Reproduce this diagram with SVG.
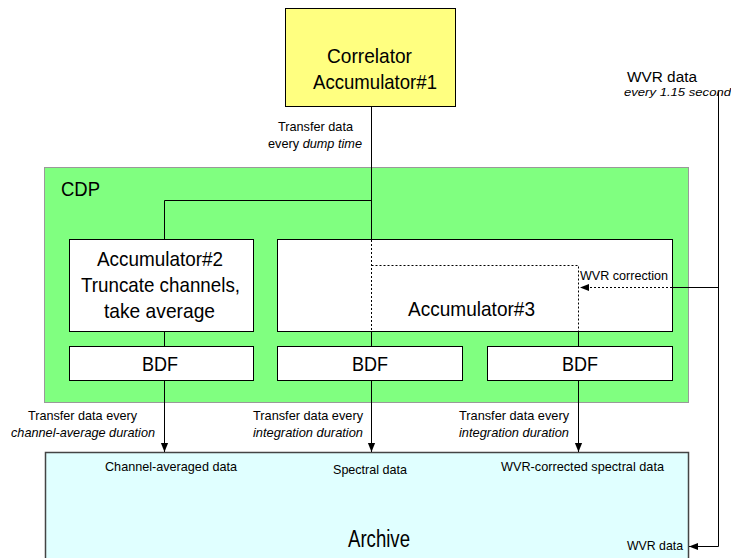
<svg xmlns="http://www.w3.org/2000/svg" width="731" height="558" viewBox="0 0 731 558">
<style>
text{font-family:"Liberation Sans",Arial,sans-serif;fill:#000}
.big{font-size:21px;text-anchor:middle}
.sm{font-size:13px}
.mid{text-anchor:middle}
.it{font-style:italic}
.box{fill:#fff;stroke:#000;stroke-width:1}
.ln{fill:none;stroke:#000;stroke-width:1}
.dot{fill:none;stroke:#000;stroke-width:1;stroke-dasharray:2,2}
</style>
<defs>
<marker id="ah" viewBox="0 0 10 10" refX="10" refY="5" markerWidth="9" markerHeight="9" markerUnits="userSpaceOnUse" orient="auto">
<path d="M0,1 L10,5 L0,9 z" fill="#000"/>
</marker>
</defs>
<rect width="731" height="558" fill="#fff"/>

<g id="cdp">
<rect x="44.5" y="167.5" width="644" height="235" fill="#80ff80" stroke="#999" stroke-width="1"/>
<text x="61" y="196" font-size="20px" textLength="39" lengthAdjust="spacingAndGlyphs">CDP</text>
</g>

<g id="archive">
<rect x="45.5" y="452.5" width="643" height="120" fill="#e0ffff" stroke="#444" stroke-width="1.5"/>
<text x="379" y="547" font-size="23px" text-anchor="middle" textLength="62" lengthAdjust="spacingAndGlyphs">Archive</text>
<text class="sm mid" x="171" y="471" textLength="132" lengthAdjust="spacingAndGlyphs">Channel-averaged data</text>
<text class="sm mid" x="370" y="474" textLength="74" lengthAdjust="spacingAndGlyphs">Spectral data</text>
<text class="sm mid" x="582.5" y="471" textLength="163" lengthAdjust="spacingAndGlyphs">WVR-corrected spectral data</text>
<text class="sm" x="627" y="550" textLength="56" lengthAdjust="spacingAndGlyphs">WVR data</text>
</g>

<g id="correlator">
<rect x="285.5" y="8.5" width="170" height="98" fill="#ffff80" stroke="#000" stroke-width="1"/>
<text class="big" x="369.5" y="63" textLength="85" lengthAdjust="spacingAndGlyphs">Correlator</text>
<text class="big" x="375" y="89" textLength="124" lengthAdjust="spacingAndGlyphs">Accumulator#1</text>
</g>

<g id="acc2">
<rect class="box" x="69.5" y="239.5" width="184" height="92"/>
<text class="big" x="160" y="266" textLength="126" lengthAdjust="spacingAndGlyphs">Accumulator#2</text>
<text class="big" x="160.5" y="292" textLength="159" lengthAdjust="spacingAndGlyphs">Truncate channels,</text>
<text class="big" x="159.5" y="318" textLength="111" lengthAdjust="spacingAndGlyphs">take average</text>
</g>

<g id="acc3">
<rect class="box" x="277.5" y="239.5" width="395" height="92"/>
<text class="big" x="471.5" y="316" textLength="127" lengthAdjust="spacingAndGlyphs">Accumulator#3</text>
</g>

<g id="bdf1">
<rect class="box" x="69.5" y="346.5" width="184" height="34"/>
<text class="big" x="160" y="371" textLength="36" lengthAdjust="spacingAndGlyphs">BDF</text>
</g>
<g id="bdf2">
<rect class="box" x="277.5" y="346.5" width="185" height="34"/>
<text class="big" x="370" y="371" textLength="36" lengthAdjust="spacingAndGlyphs">BDF</text>
</g>
<g id="bdf3">
<rect class="box" x="487.5" y="346.5" width="185" height="34"/>
<text class="big" x="580" y="371" textLength="36" lengthAdjust="spacingAndGlyphs">BDF</text>
</g>

<g id="connectors">
<path class="ln" d="M371.5,106.5 V239.5"/>
<path class="ln" d="M371.5,200.5 H164.5 V239.5"/>
<path class="dot" d="M371.5,240 V331"/>
<path class="dot" d="M371.5,265.5 H578.5 V331"/>
<path class="ln" d="M164.5,331.5 V346.5"/>
<path class="ln" d="M371.5,331.5 V346.5"/>
<path class="ln" d="M578.5,331.5 V346.5"/>
<path class="ln" d="M164.5,380.5 V452" marker-end="url(#ah)"/>
<path class="ln" d="M371.5,380.5 V452" marker-end="url(#ah)"/>
<path class="ln" d="M578.5,380.5 V452" marker-end="url(#ah)"/>
<path class="ln" d="M718.5,92 V546.5 H689" marker-end="url(#ah)"/>
<path class="ln" d="M718.5,287.5 H672.5"/>
<path class="dot" d="M672,287.5 H580" marker-end="url(#ah)"/>
</g>

<g id="labels">
<text class="sm mid" x="315.5" y="131" textLength="75" lengthAdjust="spacingAndGlyphs">Transfer data</text>
<text class="sm mid" x="315" y="148" textLength="94" lengthAdjust="spacingAndGlyphs">every <tspan class="it">dump time</tspan></text>
<text x="627" y="82" font-size="14px" textLength="70" lengthAdjust="spacingAndGlyphs">WVR data</text>
<text class="it" x="624" y="96" font-size="11.5px" textLength="107" lengthAdjust="spacingAndGlyphs">every 1.15 second</text>
<text class="sm" x="580" y="280" textLength="88" lengthAdjust="spacingAndGlyphs">WVR correction</text>
<text class="sm mid" x="82.5" y="420" textLength="109" lengthAdjust="spacingAndGlyphs">Transfer data every</text>
<text class="sm mid it" x="83" y="437" textLength="144" lengthAdjust="spacingAndGlyphs">channel-average duration</text>
<text class="sm mid" x="308" y="420" textLength="110" lengthAdjust="spacingAndGlyphs">Transfer data every</text>
<text class="sm mid it" x="308" y="437" textLength="110" lengthAdjust="spacingAndGlyphs">integration duration</text>
<text class="sm mid" x="514" y="420" textLength="110" lengthAdjust="spacingAndGlyphs">Transfer data every</text>
<text class="sm mid it" x="514" y="437" textLength="110" lengthAdjust="spacingAndGlyphs">integration duration</text>
</g>
</svg>
